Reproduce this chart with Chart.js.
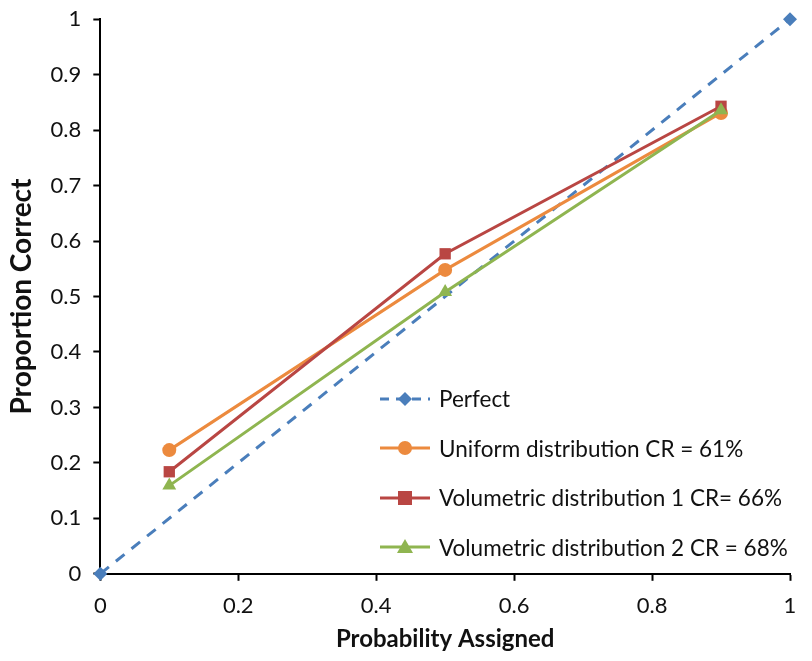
<!DOCTYPE html>
<html>
<head>
<meta charset="utf-8">
<script src="https://cdn.jsdelivr.net/npm/chart.js@4.4.0/dist/chart.umd.min.js"></script>
<style>
  html, body { margin: 0; padding: 0; background: #fff; overflow: hidden; }
  #wrap { position: relative; width: 812px; height: 661px; overflow: hidden; }
  #chart { position: absolute; left: 0; top: -6px; }
  #legend { position: absolute; left: 378px; top: 374px; font-family: Lato, "Open Sans", sans-serif; font-size: 22.5px; color: #111; }
  #legend .row { display: flex; align-items: center; height: 49.5px; }
  #legend svg { margin-right: 5px; }
</style>
</head>
<body>
<div id="wrap">
  <canvas id="chart" width="812" height="667"></canvas>
  <div id="legend"></div>
</div>
<script>
(function () {
    'use strict';

    // Data
    var perfectX = [0, 1];
    var perfectY = [0, 1];
    var probX    = [0.1, 0.5, 0.9];
    var uniformY = [0.223, 0.548, 0.831];
    var vol1Y    = [0.184, 0.577, 0.843];
    var vol2Y    = [0.159, 0.508, 0.836];
    var seriesNames = [
        'Perfect',
        'Uniform distribution CR = 61%',
        'Volumetric distribution 1 CR= 66%',
        'Volumetric distribution 2 CR = 68%'
    ];
    var xTicks = [0, 0.2, 0.4, 0.6, 0.8, 1];

    var colBlue   = '#4A7EBB';
    var colOrange = '#EC8A3E';
    var colRed    = '#B94643';
    var colGreen  = '#8FB550';

    function pts(xs, ys) {
        var out = [];
        for (var i = 0; i < xs.length; i++) out.push({ x: xs[i], y: ys[i] });
        return out;
    }

    function fmt(v) { return String(+Number(v).toFixed(2)); }

    var FONT = 'Lato, "Open Sans", sans-serif';

    var datasets = [
        {
            label: seriesNames[0], data: pts(perfectX, perfectY),
            borderColor: colBlue, backgroundColor: colBlue, borderWidth: 3,
            borderDash: [11, 9], pointStyle: 'rectRot', pointRadius: 7, order: 4
        },
        {
            label: seriesNames[1], data: pts(probX, uniformY),
            borderColor: colOrange, backgroundColor: colOrange, borderWidth: 3,
            pointStyle: 'circle', pointRadius: 7, order: 3
        },
        {
            label: seriesNames[2], data: pts(probX, vol1Y),
            borderColor: colRed, backgroundColor: colRed, borderWidth: 3,
            pointStyle: 'rect', pointRadius: 8, order: 2
        },
        {
            label: seriesNames[3], data: pts(probX, vol2Y),
            borderColor: colGreen, backgroundColor: colGreen, borderWidth: 3,
            pointStyle: 'triangle', pointRadius: 8, order: 1
        }
    ];
    datasets.forEach(function (d) {
        d.showLine = true;
        d.clip = false;
        d.pointBorderWidth = 0;
        d.pointHoverRadius = d.pointRadius;
    });

    var axisCommon = {
        grid: { drawOnChartArea: false, drawTicks: true, tickLength: 7, tickColor: '#000', tickWidth: 2 },
        border: { color: '#000', width: 2 }
    };

    new Chart(document.getElementById('chart'), {
        type: 'scatter',
        data: { datasets: datasets },
        options: {
            responsive: false,
            animation: false,
            layout: { padding: { top: 0, right: 22, left: 5, bottom: 7 } },
            plugins: { legend: { display: false }, tooltip: { enabled: false } },
            scales: {
                x: Object.assign({
                    type: 'linear', min: 0, max: 1,
                    afterBuildTicks: function (axis) {
                        axis.ticks = xTicks.map(function (v) { return { value: v }; });
                    },
                    ticks: { font: { family: FONT, size: 22 }, color: '#111', padding: 12, callback: fmt },
                    title: { display: true, text: 'Probability Assigned', font: { family: FONT, size: 24, weight: 'bold' }, color: '#111', padding: { top: -6, bottom: 0 } }
                }, axisCommon),
                y: Object.assign({
                    type: 'linear', min: 0, max: 1,
                    ticks: { stepSize: 0.1, font: { family: FONT, size: 22 }, color: '#111', padding: 12, callback: fmt },
                    title: { display: true, text: 'Proportion Correct', font: { family: FONT, size: 28, weight: 'bold' }, color: '#111', padding: { top: 0, bottom: 0 } }
                }, axisCommon)
            }
        }
    });

    // Legend inside the plot area
    function icon(style, color, dashed) {
        var line = dashed
            ? '<line x1="2" y1="11" x2="52" y2="11" stroke="' + color + '" stroke-width="3" stroke-dasharray="9,7"/>'
            : '<line x1="2" y1="11" x2="52" y2="11" stroke="' + color + '" stroke-width="3"/>';
        var m = '';
        if (style === 'rectRot') m = '<polygon points="27,4 34,11 27,18 20,11" fill="' + color + '"/>';
        if (style === 'circle') m = '<circle cx="27" cy="11" r="7" fill="' + color + '"/>';
        if (style === 'rect') m = '<rect x="20" y="4" width="14" height="14" fill="' + color + '"/>';
        if (style === 'triangle') m = '<polygon points="27,3 35,17 19,17" fill="' + color + '"/>';
        return '<svg width="56" height="22">' + line + m + '</svg>';
    }

    var lg = document.getElementById('legend');
    var html = '';
    for (var i = 0; i < datasets.length; i++) {
        html += '<div class="row">' + icon(datasets[i].pointStyle, datasets[i].borderColor, i === 0) +
            '<span>' + datasets[i].label + '</span></div>';
    }
    lg.innerHTML = html;
}());
</script>
</body>
</html>
